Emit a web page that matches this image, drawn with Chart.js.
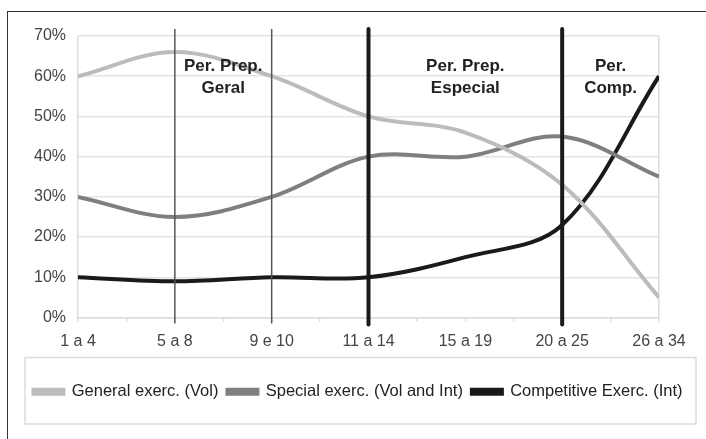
<!DOCTYPE html>
<html lang="pt">
<head>
<meta charset="UTF-8">
<title>Periodização</title>
<style>
  html, body { margin: 0; padding: 0; background: #fff; }
  .wrap { position: relative; width: 706px; height: 439px; overflow: hidden; }
  .frame { position: absolute; left: 7px; top: 11px; width: 720px; height: 460px; border: 1.5px solid #333; background: #fff; }
  .wrap canvas { position: absolute; left: 0; top: 0; }
</style>
<script src="https://cdn.jsdelivr.net/npm/chart.js@4"></script>
</head>
<body>
<div class="wrap">
  <div class="frame"></div>
  <canvas id="myChart" width="706" height="439"></canvas>
</div>
<script>
// dados
const categories = ['1 a 4', '5 a 8', '9 e 10', '11 a 14', '15 a 19', '20 a 25', '26 a 34'];
const generalVol = [60, 66, 60, 50, 46, 33, 5];
const specialVolInt = [30, 25, 30, 40, 40, 45, 35];
const competitiveInt = [10, 9, 10, 10, 15, 23, 60];
const seriesNames = ['General exerc. (Vol)', 'Special exerc. (Vol and Int)', 'Competitive Exerc. (Int)'];
const seriesColors = ['#bcbcbc', '#7f7f7f', '#1a1a1a'];

// limites dos períodos
const thinMarks = [1, 2];
const thickMarks = [3, 5];
const phaseLabels = [['Per. Prep.', 'Geral'], ['Per. Prep.', 'Especial'], ['Per.', 'Comp.']];
const phaseFrom = [1, 3, 5];
const phaseTo = [2, 5, 6];

const toPoints = vals => vals.map((v, i) => ({ x: i, y: v }));

const phasePlugin = {
  id: 'phases',
  beforeDraw(chart) {
    // caixa da legenda
    const lg = chart.legend;
    const ctx = chart.ctx;
    ctx.save();
    ctx.fillStyle = '#fff';
    ctx.strokeStyle = '#dcdcdc';
    ctx.lineWidth = 1.5;
    const x0 = lg.left + 15, x1 = lg.right - 10;
    const y0 = lg.top - 17, y1 = lg.bottom + 14;
    ctx.fillRect(x0, y0, x1 - x0, y1 - y0);
    ctx.strokeRect(x0, y0, x1 - x0, y1 - y0);
    ctx.restore();
  },
  afterDatasetsDraw(chart) {
    const ctx = chart.ctx;
    const xs = chart.scales.x;
    const area = chart.chartArea;
    ctx.save();
    ctx.lineCap = 'butt';
    thinMarks.forEach(m => {
      const px = xs.getPixelForValue(m);
      ctx.strokeStyle = '#555';
      ctx.lineWidth = 1.5;
      ctx.beginPath();
      ctx.moveTo(px, area.top - 7);
      ctx.lineTo(px, area.bottom + 6);
      ctx.stroke();
    });
    thickMarks.forEach(m => {
      const px = xs.getPixelForValue(m);
      ctx.strokeStyle = '#1a1a1a';
      ctx.lineWidth = 4;
      ctx.lineCap = 'round';
      ctx.beginPath();
      ctx.moveTo(px, area.top - 7);
      ctx.lineTo(px, area.bottom + 7);
      ctx.stroke();
    });
    ctx.fillStyle = '#222';
    ctx.font = 'bold 17px "Liberation Sans", Arial, sans-serif';
    ctx.textAlign = 'center';
    ctx.textBaseline = 'middle';
    phaseLabels.forEach((lines, i) => {
      const cx = xs.getPixelForValue((phaseFrom[i] + phaseTo[i]) / 2);
      lines.forEach((t, j) => ctx.fillText(t, cx, area.top + 30 + j * 22));
    });
    ctx.restore();
  }
};

const ctx = document.getElementById('myChart').getContext('2d');
const myChart = new Chart(ctx, {
  type: 'line',
  data: {
    datasets: [
      { label: seriesNames[0], data: toPoints(generalVol), borderColor: seriesColors[0], backgroundColor: seriesColors[0] },
      { label: seriesNames[1], data: toPoints(specialVolInt), borderColor: seriesColors[1], backgroundColor: seriesColors[1] },
      { label: seriesNames[2], data: toPoints(competitiveInt), borderColor: seriesColors[2], backgroundColor: seriesColors[2] }
    ]
  },
  options: {
    responsive: false,
    animation: false,
    devicePixelRatio: 1,
    layout: { padding: { left: 10, right: 0, top: 36, bottom: 29 } },
    elements: {
      line: { borderWidth: 4, tension: 0.35, fill: false },
      point: { radius: 0 }
    },
    plugins: {
      tooltip: { enabled: false },
      legend: {
        position: 'bottom',
        labels: {
          boxWidth: 30,
          boxHeight: 4,
          padding: 9,
          color: '#222',
          font: { family: '"Liberation Sans", Arial, sans-serif', size: 16.5 }
        }
      }
    },
    scales: {
      x: {
        type: 'linear',
        min: 0,
        max: categories.length - 1,
        afterFit: s => { s.height = 57; },
        afterBuildTicks: s => {
          s.ticks = [];
          for (let v = 0; v <= categories.length - 1; v += 0.5) s.ticks.push({ value: v });
        },
        ticks: {
          autoSkip: false,
          maxRotation: 0,
          padding: 10,
          color: '#444',
          font: { family: '"Liberation Sans", Arial, sans-serif', size: 16 },
          callback: v => Number.isInteger(v) ? categories[v] : ''
        },
        grid: {
          color: c => (c.tick && (c.tick.value === 0 || c.tick.value === categories.length - 1)) ? '#dcdcdc' : 'rgba(0,0,0,0)',
          tickColor: '#dcdcdc',
          tickLength: 4,
          lineWidth: 1.5
        },
        border: { color: '#dcdcdc', width: 1.5 }
      },
      y: {
        min: 0,
        max: 70,
        afterFit: s => { s.width = 68; },
        ticks: {
          stepSize: 10,
          padding: 12,
          color: '#444',
          font: { family: '"Liberation Sans", Arial, sans-serif', size: 16 },
          callback: v => v + '%'
        },
        grid: { color: '#e3e3e3', lineWidth: 1.5, drawTicks: false },
        border: { display: false }
      },
      y2: {
        position: 'right',
        min: 0,
        max: 70,
        afterFit: s => { s.width = 47; },
        ticks: { display: false },
        grid: { drawOnChartArea: false, drawTicks: false },
        border: { display: false }
      }
    }
  },
  plugins: [phasePlugin]
});
</script>
</body>
</html>
